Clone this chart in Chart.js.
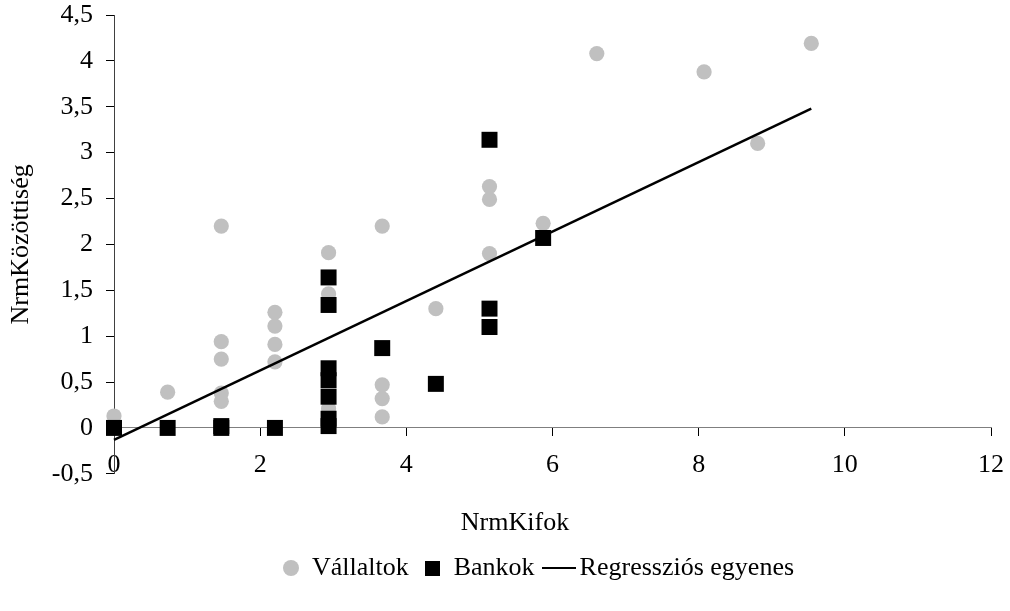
<!DOCTYPE html>
<html>
<head>
<meta charset="utf-8">
<script src="https://cdn.jsdelivr.net/npm/chart.js@4"></script>
<style>
html,body{margin:0;padding:0;background:#ffffff;}
#c{display:block;}
</style>
</head>
<body>
<canvas id="c" width="1010" height="611"></canvas>
<script>
// ---- data ----
const seriesNames = ['Vállaltok', 'Bankok', 'Regressziós egyenes'];
const vallaltokX = [0, 0.734, 1.468, 1.468, 1.468, 1.468, 1.468, 2.202, 2.202, 2.202, 2.202,
  2.936, 2.936, 2.936, 3.670, 3.670, 3.670, 3.670, 4.404, 5.138, 5.138, 5.138, 5.872,
  6.606, 8.074, 8.807, 9.541];
const vallaltokY = [0.13, 0.39, 2.20, 0.94, 0.75, 0.38, 0.29, 1.26, 1.11, 0.91, 0.72,
  1.91, 1.46, 0.21, 2.20, 0.47, 0.32, 0.12, 1.30, 2.63, 2.49, 1.90, 2.23,
  4.08, 3.88, 3.10, 4.19];
const bankokX = [0, 0.734, 1.468, 1.468, 2.202, 2.936, 2.936, 2.936, 2.936, 2.936, 2.936, 2.936,
  3.670, 4.404, 5.138, 5.138, 5.138, 5.872];
const bankokY = [0, 0, 0.02, 0, 0, 1.64, 1.34, 0.65, 0.52, 0.34, 0.10, 0.02,
  0.87, 0.48, 3.14, 1.30, 1.10, 2.07];
const regressionX = [0, 9.541];
const regressionY = [-0.13, 3.48];
const xTicks = [0, 2, 4, 6, 8, 10, 12];
const yTicks = [-0.5, 0, 0.5, 1, 1.5, 2, 2.5, 3, 3.5, 4, 4.5];
const xTitle = 'NrmKifok';
const yTitle = 'NrmKözöttiség';

// ---- styling ----
const FONT = "'Liberation Serif', 'Times New Roman', serif";
const FS = 26;
const GRAY = '#C0C0C0';
const TITLE_DX = 19.5;
const LEGEND_DX = 43;

const toPoints = (xs, ys) => xs.map((x, i) => ({ x: x, y: ys[i] }));

function makeMarker(kind) {
  const c = document.createElement('canvas');
  const g = c.getContext('2d');
  if (kind === 'circle') {
    c.width = 18; c.height = 18;
    g.fillStyle = GRAY; g.beginPath(); g.arc(9, 9, 8, 0, Math.PI * 2); g.fill();
  } else if (kind === 'square') {
    c.width = 15; c.height = 15;
    g.fillStyle = '#000'; g.fillRect(0, 0, 15, 15);
  } else {
    c.width = 34; c.height = 4;
    g.fillStyle = '#000'; g.fillRect(0, 1, 34, 2);
  }
  return c;
}
const legendMarkers = [makeMarker('circle'), makeMarker('square'), makeMarker('line')];

const shiftPlugin = {
  id: 'shiftBoxes',
  afterLayout(chart) {
    const t = chart.titleBlock;
    if (t) { t.left += TITLE_DX; t.right += TITLE_DX; }
    const l = chart.legend;
    if (l) { l.left += LEGEND_DX; l.right += LEGEND_DX; }
  }
};

new Chart(document.getElementById('c'), {
  type: 'scatter',
  data: {
    datasets: [
      {
        label: seriesNames[0],
        data: toPoints(vallaltokX, vallaltokY),
        pointStyle: 'circle', pointRadius: 7.6, pointHoverRadius: 7.6,
        backgroundColor: GRAY, borderColor: GRAY, borderWidth: 0,
        order: 3, clip: false
      },
      {
        label: seriesNames[1],
        data: toPoints(bankokX, bankokY),
        pointStyle: 'rect', pointRadius: 11.3, pointHoverRadius: 11.3,
        backgroundColor: '#000', borderColor: '#000', borderWidth: 0,
        order: 2, clip: false
      },
      {
        label: seriesNames[2],
        type: 'line',
        data: toPoints(regressionX, regressionY),
        showLine: true, pointRadius: 0, pointHoverRadius: 0,
        borderColor: '#000', borderWidth: 2.5, fill: false, tension: 0,
        order: 1, clip: false
      }
    ]
  },
  options: {
    responsive: false,
    animation: false,
    events: [],
    layout: { padding: { left: 0, right: 19, top: 15, bottom: 20 } },
    scales: {
      x: {
        type: 'linear',
        position: { y: 0 },
        min: 0, max: 12,
        afterBuildTicks: s => { s.ticks = xTicks.map(v => ({ value: v })); },
        afterFit: s => { s.paddingLeft = 0; s.paddingRight = 0; },
        grid: { display: true, drawOnChartArea: false, drawTicks: true, tickLength: 8, color: '#000', lineWidth: 1 },
        border: { display: true, color: '#7f7f7f', width: 1 },
        ticks: { font: { family: FONT, size: FS }, color: '#000', padding: 14, maxRotation: 0, autoSkip: false }
      },
      y: {
        type: 'linear',
        position: 'left',
        min: -0.5, max: 4.5,
        afterBuildTicks: s => { s.ticks = yTicks.map(v => ({ value: v })); },
        afterFit: s => { s.width = 114; s.paddingTop = 0; s.paddingBottom = 0; },
        grid: { display: true, drawOnChartArea: false, drawTicks: true, tickLength: 8, color: '#000', lineWidth: 1 },
        border: { display: true, color: '#404040', width: 1 },
        ticks: {
          font: { family: FONT, size: FS }, color: '#000', padding: 13, autoSkip: false,
          callback: v => String(v).replace('.', ',')
        },
        title: {
          display: true, text: yTitle, color: '#000',
          font: { family: FONT, size: FS }, padding: { top: 6, bottom: 0 }
        }
      }
    },
    plugins: {
      legend: {
        display: true,
        position: 'bottom',
        labels: {
          usePointStyle: true, boxWidth: 16, boxHeight: 16, padding: 16,
          font: { family: FONT, size: FS }, color: '#000',
          generateLabels: chart => chart.data.datasets.map((ds, i) => ({
            text: ds.label, datasetIndex: i, pointStyle: legendMarkers[i],
            fillStyle: 'rgba(0,0,0,0)', strokeStyle: 'rgba(0,0,0,0)', lineWidth: 0,
            hidden: false, fontColor: '#000'
          }))
        }
      },
      title: {
        display: true, position: 'bottom', text: xTitle, color: '#000',
        font: { family: FONT, size: FS, weight: 'normal' },
        padding: { top: 34, bottom: 0 }, weight: 500
      },
      tooltip: { enabled: false }
    }
  },
  plugins: [shiftPlugin]
});
</script>
</body>
</html>
